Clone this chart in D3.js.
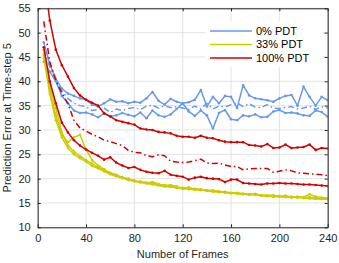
<!DOCTYPE html>
<html><head><meta charset="utf-8">
<script src="https://cdn.jsdelivr.net/npm/d3@7"></script>
<style>
html,body{margin:0;padding:0;background:#fff;}
text{font-family:"Liberation Sans",Arial,Helvetica,sans-serif;}
</style></head>
<body><svg id="c" width="339" height="263"></svg>
<script>
const frames = [5,10,15,20,25,30,35,40,45,50,55,60,65,70,75,80,85,90,95,100,105,110,115,120,125,130,135,140,145,150,155,160,165,170,175,180,185,190,195,200,205,210,215,220,225,230,235,240];

const blueSolidA = [48.0,43.5,40.5,38.5,37.5,37.0,36.5,36.2,35.2,34.8,35.5,36.3,35.8,35.9,35.5,35.8,35.6,36.5,37.8,36.0,35.2,36.4,35.8,35.5,35.7,36.2,38.2,34.8,36.8,35.5,37.0,36.8,34.5,39.2,37.1,36.5,36.3,36.1,35.8,36.5,37.0,37.2,35.0,38.9,36.8,35.0,36.8,36.1];
const blueDashDot = [46.5,43.0,40.0,38.0,36.5,35.5,35.0,34.8,34.0,34.2,34.5,33.6,34.3,34.0,34.4,34.6,34.2,34.9,35.1,34.5,35.0,34.6,34.8,34.5,34.2,34.9,34.3,35.5,34.3,34.9,34.7,35.2,35.6,34.8,35.4,34.7,34.6,35.2,34.5,34.4,34.6,34.8,34.3,34.5,34.9,34.2,34.8,34.5];
const blueSolidB = [44.0,42.0,40.0,37.0,35.5,34.0,33.5,33.6,33.2,32.6,33.4,32.8,33.0,33.5,33.1,32.8,33.6,32.4,34.0,33.0,32.7,33.2,34.3,35.5,33.8,32.9,34.0,33.0,30.3,33.5,34.1,32.2,32.0,33.0,32.8,33.2,32.6,32.7,33.8,34.1,33.5,33.6,33.4,33.0,32.9,34.0,33.7,32.7];

const yellowSolidA = [46.4,39.0,34.5,29.5,26.8,25.6,24.6,23.8,23.1,22.3,21.8,21.1,20.7,20.3,20.0,19.5,19.4,19.2,19.0,18.8,18.7,18.4,18.2,18.1,18.1,17.9,17.7,17.6,17.5,17.4,17.2,17.1,17.0,16.9,16.8,16.8,16.6,16.6,16.5,16.4,16.4,16.3,16.2,16.1,16.2,16.0,15.9,15.8];
const yellowSolidB = [45.5,38.0,33.0,29.0,27.5,28.5,29.0,26.0,23.8,22.7,21.9,21.2,20.8,20.2,19.9,19.6,19.2,19.1,19.3,18.9,18.6,18.7,18.4,18.0,18.2,17.8,17.8,17.5,17.6,17.3,17.3,17.0,17.1,16.9,16.7,16.9,16.6,16.5,16.6,16.3,16.5,16.2,16.3,16.2,16.8,16.3,16.1,16.0];
const yellowSolidC = [44.8,37.5,32.0,28.5,26.3,25.0,24.2,23.5,22.6,22.1,21.5,20.9,20.5,20.1,19.7,19.4,19.3,19.0,18.8,18.6,18.4,18.3,18.1,17.9,17.8,17.7,17.6,17.5,17.3,17.2,17.1,17.0,16.9,16.8,16.7,16.7,16.5,16.4,16.3,16.3,16.2,16.1,16.1,16.0,15.9,15.8,15.8,15.7];

const redSolidTop = [62.0,52.5,46.5,43.3,41.0,38.6,37.1,36.2,35.6,35.0,33.4,32.8,32.0,31.7,31.4,31.1,30.3,30.1,30.0,29.6,29.5,29.3,28.8,28.6,28.6,28.4,28.8,28.4,28.3,27.9,27.6,27.5,27.5,27.5,26.9,26.8,26.6,27.1,26.3,26.4,27.0,26.3,26.4,26.5,27.0,25.9,26.3,26.2];
const redDashDot = [52.3,44.0,40.2,37.6,35.4,32.0,30.4,29.8,29.1,28.6,27.9,27.6,27.2,26.8,25.8,25.4,25.3,24.7,24.5,24.9,24.7,23.6,23.4,23.3,23.4,23.7,24.0,23.2,23.1,23.2,22.8,22.5,22.5,21.8,22.0,22.1,22.1,22.1,21.3,21.5,21.8,21.6,21.2,21.1,21.0,20.9,20.8,20.6];
const redSolidLow = [47.0,40.0,35.5,31.5,29.5,27.9,26.8,26.0,25.3,24.7,23.9,24.4,23.3,22.7,22.2,22.4,21.8,21.4,21.2,21.1,21.6,20.8,20.6,20.4,19.8,20.2,20.4,20.1,20.0,19.9,19.3,19.8,19.8,19.1,19.0,18.9,18.8,19.0,19.0,19.1,19.0,19.0,18.9,18.8,18.8,18.7,18.6,18.5];

const xTicks = [0,40,80,120,160,200,240];
const yTicks = [10,15,20,25,30,35,40,45,50,55];
const legendLabels = ["0% PDT","33% PDT","100% PDT"];

const BLUE = "#6699ee", YELLOW = "#cccc00", RED = "#d40000";
const series = [
  {v: blueSolidA, c: BLUE, dash: null},
  {v: blueDashDot, c: BLUE, dash: "6,3,1.5,3"},
  {v: blueSolidB, c: BLUE, dash: null},
  {v: yellowSolidA, c: YELLOW, dash: null},
  {v: yellowSolidB, c: YELLOW, dash: null},
  {v: yellowSolidC, c: YELLOW, dash: null},
  {v: redSolidLow, c: RED, dash: null},
  {v: redDashDot, c: RED, dash: "6,3,1.5,3"},
  {v: redSolidTop, c: RED, dash: null}
];

const L = 37.7, R = 327.7, T = 8.3, B = 227.3;
const x = d3.scaleLinear().domain([0,240]).range([L,R]);
const y = d3.scaleLinear().domain([10,55]).range([B,T]);
const svg = d3.select("#c");
const AX = "#262626";

svg.append("defs").append("clipPath").attr("id","clip")
  .append("rect").attr("x",L).attr("y",T).attr("width",R-L).attr("height",B-T);

// grid
const g = svg.append("g");
g.selectAll("line.gx").data(xTicks).enter().append("line")
  .attr("x1",d=>x(d)).attr("x2",d=>x(d)).attr("y1",T).attr("y2",B)
  .attr("stroke","#e3e3e3").attr("stroke-width",1);
g.selectAll("line.gy").data(yTicks).enter().append("line")
  .attr("y1",d=>y(d)).attr("y2",d=>y(d)).attr("x1",L).attr("x2",R)
  .attr("stroke","#e3e3e3").attr("stroke-width",1);

// lines
const plot = svg.append("g").attr("clip-path","url(#clip)");
const line = d3.line().x((d,i)=>x(frames[i])).y(d=>y(d));
series.forEach(s=>{
  plot.append("path").datum(s.v).attr("d",line).attr("fill","none")
    .attr("stroke",s.c).attr("stroke-width",1.5)
    .attr("stroke-linejoin","round")
    .attr("stroke-dasharray",s.dash);
  if(!s.dash){
    plot.selectAll(null).data(s.v).enter().append("circle")
      .attr("cx",(d,i)=>x(frames[i])).attr("cy",d=>y(d)).attr("r",1.3)
      .attr("fill",s.c);
  }
});

// axes
const xa = svg.append("g").attr("transform",`translate(0,${B})`)
  .call(d3.axisBottom(x).tickValues(xTicks).tickSize(-3).tickPadding(7).tickSizeOuter(0));
const xt = svg.append("g").attr("transform",`translate(0,${T})`)
  .call(d3.axisTop(x).tickValues(xTicks).tickSize(-3).tickFormat("").tickSizeOuter(0));
const ya = svg.append("g").attr("transform",`translate(${L},0)`)
  .call(d3.axisLeft(y).tickValues(yTicks).tickSize(-3).tickPadding(7).tickSizeOuter(0));
const yr = svg.append("g").attr("transform",`translate(${R},0)`)
  .call(d3.axisRight(y).tickValues(yTicks).tickSize(-3).tickFormat("").tickSizeOuter(0));
[xa,xt,ya,yr].forEach(a=>{
  a.select(".domain").attr("stroke",AX).attr("stroke-width",1);
  a.selectAll(".tick line").attr("stroke",AX);
  a.selectAll("text").attr("fill",AX).style("font-size","11px")
    .style("font-family","'Liberation Sans',Arial,sans-serif");
});

// axis labels
svg.append("text").attr("x",(L+R)/2).attr("y",258).attr("text-anchor","middle")
  .attr("fill",AX).style("font-size","11px").text("Number of Frames");
svg.append("text").attr("transform",`translate(11,${(T+B)/2}) rotate(-90)`)
  .attr("text-anchor","middle").attr("fill",AX).style("font-size","11px")
  .text("Prediction Error at Time-step 5");

// legend
const lg = svg.append("g");
lg.append("rect").attr("x",205).attr("y",21).attr("width",117).attr("height",46).attr("fill","#fff");
const lcol = [BLUE,YELLOW,RED];
legendLabels.forEach((t,i)=>{
  const ly = 31 + i*13.5;
  lg.append("line").attr("x1",210).attr("x2",252).attr("y1",ly).attr("y2",ly)
    .attr("stroke",lcol[i]).attr("stroke-width",1.5);
  lg.append("text").attr("x",256).attr("y",ly).attr("dy","0.35em")
    .attr("fill","#000").style("font-size","11px").text(t);
});
</script></body></html>
